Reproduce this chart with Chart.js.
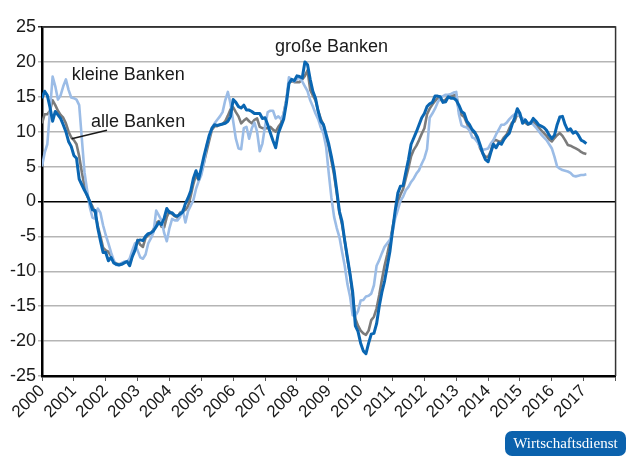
<!DOCTYPE html>
<html>
<head>
<meta charset="utf-8">
<script src="https://cdn.jsdelivr.net/npm/chart.js@4.4.0/dist/chart.umd.min.js"></script>
<style>
  html, body { margin: 0; padding: 0; background: #fff; }
  #wrap { width: 630px; height: 459px; }
</style>
</head>
<body>
<div id="wrap"><canvas id="myChart" width="630" height="459"></canvas></div>
<script>
// monthly values, Jan 2000 .. Feb 2017
const startYear = 2000;
const years = [2000, 2001, 2002, 2003, 2004, 2005, 2006, 2007, 2008,
  2009, 2010, 2011, 2012, 2013, 2014, 2015, 2016, 2017];

const grosseBanken = [
  14.8, 15.8, 15.2, 13.5, 11.5, 12.9, 12.4, 11.9, 11.0, 10.0, 8.6, 7.9,
  6.6, 6.2, 3.2, 2.4, 1.6, 0.9, 0.0, -1.2, -1.3, -3.8, -5.6, -7.3,
  -7.3, -8.5, -8.0, -8.8, -9.0, -9.1, -9.0, -8.8, -8.6, -9.2, -7.9, -7.0,
  -5.6, -5.5, -5.6, -5.0, -4.6, -4.5, -4.2, -3.6, -3.0, -3.3, -2.4, -1.0,
  -1.6, -1.6, -2.0, -2.1, -1.8, -1.5, -0.3, 0.5, 1.5, 3.3, 4.4, 3.2,
  4.8, 6.5, 8.0, 9.5, 10.5, 11.0, 10.9, 11.0, 11.1, 11.2, 11.5, 12.2,
  14.6, 14.2, 13.6, 13.4, 13.8, 13.1, 13.1, 12.9, 12.6, 12.6, 12.6, 11.9,
  12.0, 11.0, 9.8, 8.7, 7.7, 9.8, 10.8, 11.8, 14.0, 16.9, 17.5, 17.3,
  18.0, 17.9, 17.7, 20.0, 19.6, 17.5, 15.8, 14.8, 12.9, 11.5, 11.0, 9.6,
  8.2, 6.4, 4.4, 1.6, -1.4, -2.9, -5.6, -8.0, -10.4, -13.0, -17.8, -18.6,
  -20.3, -21.4, -21.8, -20.3, -19.0, -18.9, -17.5, -15.0, -13.0, -11.4, -9.3, -7.2,
  -4.2, -1.3, 1.2, 2.2, 2.3, 4.2, 6.0, 8.2, 9.1, 10.0, 11.0, 12.0,
  12.6, 13.6, 14.0, 14.2, 15.1, 15.1, 15.0, 14.2, 14.3, 15.0, 14.8, 14.8,
  14.5, 13.8, 12.9, 12.6, 11.5, 11.0, 10.3, 9.9, 9.2, 8.1, 6.9, 6.0,
  5.7, 7.0, 8.2, 7.7, 8.4, 8.2, 8.9, 9.4, 9.8, 11.0, 12.0, 13.3,
  12.6, 11.2, 11.7, 11.1, 11.2, 11.9, 11.5, 11.0, 10.8, 10.6, 10.2, 9.5,
  9.0, 9.5, 11.0, 12.1, 12.2, 11.0, 10.2, 10.4, 9.8, 10.0, 9.5, 8.8,
  8.6, 8.3
];

const alleBanken = [
  11.2, 12.5, 12.5, 13.0, 14.5, 13.8, 13.0, 12.4, 12.0, 11.2, 10.0, 9.2,
  8.8, 8.2, 6.5, 4.2, 2.2, 0.8, 0.0, -0.7, -1.6, -3.5, -5.0, -6.6,
  -7.0, -7.2, -7.8, -8.6, -8.9, -9.0, -8.9, -8.7, -8.6, -8.8, -7.8, -6.8,
  -5.5, -6.2, -6.5, -5.2, -4.8, -4.6, -4.0, -3.1, -2.8, -3.6, -3.7, -2.2,
  -1.4, -1.8, -2.1, -2.3, -1.6, -1.4, -1.2, -0.7, 0.8, 2.5, 3.8, 3.0,
  4.2, 5.6, 7.2, 8.8, 10.3, 10.8, 10.8, 11.0, 11.1, 11.5, 12.3, 13.2,
  13.5, 12.8, 12.2, 11.2, 11.6, 11.9, 11.5, 11.2, 11.7, 11.9, 10.7, 10.5,
  10.5, 10.5, 10.7, 10.3, 10.0, 10.7, 11.2, 12.6, 14.5, 17.0, 17.3, 17.1,
  17.1, 17.1, 17.5, 18.0, 18.8, 16.0, 15.2, 14.5, 13.0, 11.8, 11.0, 9.3,
  7.8, 5.8, 3.8, 1.2, -1.6, -3.3, -5.6, -8.2, -10.5, -13.5, -16.8, -17.8,
  -18.5, -18.9, -19.1, -18.5, -17.0, -16.5, -15.3, -13.4, -11.2, -9.2, -7.6, -5.8,
  -3.8, -1.8, 0.0, 1.0, 1.8, 3.3, 4.8, 6.5, 7.4, 8.0, 8.8, 9.7,
  10.5, 12.5, 13.3, 13.9, 14.4, 14.8, 14.6, 14.4, 14.6, 15.0, 15.1, 15.2,
  15.3, 13.0, 12.4, 12.1, 11.2, 10.3, 10.0, 9.8, 8.9, 7.6, 6.9, 6.4,
  6.4, 7.2, 8.7, 8.8, 8.6, 8.6, 9.2, 9.6, 10.5, 11.3, 11.5, 12.6,
  12.2, 11.7, 11.3, 11.0, 11.2, 11.4, 11.1, 10.6, 10.2, 9.8, 9.4, 8.9,
  8.6, 9.1, 9.5, 9.8, 9.4, 8.8, 8.1, 8.0, 7.8, 7.6, 7.4, 7.1,
  6.9, 6.8
];

const kleineBanken = [
  5.0, 7.0, 8.2, 13.0, 17.9, 16.5, 14.6, 15.2, 16.5, 17.5, 16.0, 14.9,
  14.8, 14.6, 13.8, 9.0, 4.2, 1.6, -0.8, -2.3, -2.5, -1.0, -1.6, -3.4,
  -4.8, -6.0, -7.3, -8.4, -9.1, -9.1, -8.8, -8.6, -8.6, -8.2, -7.0, -6.0,
  -7.0, -8.0, -8.2, -7.6, -6.0, -5.3, -4.4, -1.3, -2.0, -2.7, -4.5, -5.7,
  -3.8, -2.5, -2.7, -2.7, -2.2, -1.2, -3.0, -1.4, -0.6, 0.2, 1.8, 2.9,
  3.8, 5.5, 8.0, 9.3, 10.5, 11.2, 11.7, 12.2, 12.8, 14.5, 15.7, 14.0,
  11.5, 9.0, 7.6, 7.5, 10.5, 10.7, 9.0, 10.5, 11.3, 10.0, 7.2, 8.3,
  10.8, 12.8, 13.0, 13.0, 11.9, 12.2, 11.8, 12.5, 14.5, 17.8, 17.4, 17.2,
  17.5, 17.8, 17.2, 16.5, 15.8, 14.5, 13.6, 12.6, 11.8, 10.6, 9.7, 7.8,
  4.0, 0.5, -2.2, -3.8, -5.1, -7.2, -9.2, -11.8, -13.6, -16.3, -16.4, -15.7,
  -14.2, -14.1, -13.6, -13.5, -13.2, -12.0, -9.2, -8.4, -7.4, -6.5, -6.0, -5.5,
  -4.4, -2.4, -1.2, 0.1, 0.7, 1.6, 2.1, 2.8, 3.3, 4.0, 4.5, 5.4,
  6.2, 7.5, 12.0, 12.6, 13.3, 14.2, 14.8, 15.1, 15.3, 15.3, 15.4, 15.6,
  15.7, 12.5, 10.9, 10.7, 10.6, 10.2, 9.2, 9.0, 8.5, 7.8, 7.4, 7.5,
  7.6, 8.3, 8.8, 9.6, 10.3, 11.0, 11.0, 11.3, 11.8, 12.2, 12.5, 12.5,
  12.2, 11.9, 11.7, 11.2, 11.4, 11.0, 10.6, 10.1, 9.6, 9.2, 8.8, 8.2,
  7.6, 6.4, 5.0, 4.7, 4.5, 4.4, 4.3, 4.1, 3.7, 3.6, 3.7, 3.8,
  3.8, 3.9
];

const toPoints = (values) => values.map((v, i) => ({ x: startYear + i / 12, y: v }));

const labelFont = '18px "Liberation Sans", Arial, Helvetica, sans-serif';

// text labels placed in data coordinates
const notes = [
  { text: "kleine Banken", x: 2000.93, y: 18.1 },
  { text: "alle Banken", x: 2001.54, y: 11.4 },
  { text: "große Banken", x: 2007.31, y: 22.1 }
];
const leader = [{ x: 2002.04, y: 10.2 }, { x: 2000.93, y: 9.0 }];

const decorations = {
  id: "decorations",
  beforeDraw(chart) {
    const ctx = chart.ctx;
    ctx.save();
    ctx.fillStyle = "#fff";
    ctx.fillRect(0, 0, chart.width, chart.height);
    ctx.restore();
  },
  afterDraw(chart) {
    const { ctx, chartArea: a, scales } = chart;
    const sx = scales.x, sy = scales.y;
    ctx.save();
    // top and right frame
    ctx.strokeStyle = "#333";
    ctx.lineWidth = 1.5;
    ctx.beginPath();
    ctx.moveTo(a.left, a.top);
    ctx.lineTo(a.right, a.top);
    ctx.lineTo(a.right, a.bottom);
    ctx.stroke();

    // annotations
    ctx.font = labelFont;
    ctx.fillStyle = "#1a1a1a";
    ctx.textBaseline = "middle";
    ctx.textAlign = "left";
    notes.forEach(n => ctx.fillText(n.text, sx.getPixelForValue(n.x), sy.getPixelForValue(n.y)));
    ctx.strokeStyle = "#1a1a1a";
    ctx.lineWidth = 1.5;
    ctx.beginPath();
    ctx.moveTo(sx.getPixelForValue(leader[0].x), sy.getPixelForValue(leader[0].y));
    ctx.lineTo(sx.getPixelForValue(leader[1].x), sy.getPixelForValue(leader[1].y));
    ctx.stroke();

    // logo
    ctx.fillStyle = "#0b62ad";
    ctx.beginPath();
    ctx.roundRect(505, 431, 121, 25, 7);
    ctx.fill();
    ctx.fillStyle = "#fff";
    ctx.font = '15px "Liberation Serif", "DejaVu Serif", serif';
    ctx.textAlign = "center";
    ctx.fillText("Wirtschaftsdienst", 565.5, 444);
    ctx.restore();
  }
};

const ctx = document.getElementById("myChart");

const myChart = new Chart(ctx, {
  type: "line",
  data: {
    datasets: [
      {
        label: "große Banken",
        data: toPoints(grosseBanken),
        borderColor: "#0a66b2",
        borderWidth: 3,
        order: 1
      },
      {
        label: "kleine Banken",
        data: toPoints(kleineBanken),
        borderColor: "#9bbce6",
        borderWidth: 2.6,
        order: 2
      },
      {
        label: "alle Banken",
        data: toPoints(alleBanken),
        borderColor: "#7b7b7b",
        borderWidth: 2.6,
        order: 3
      }
    ]
  },
  options: {
    responsive: false,
    animation: false,
    devicePixelRatio: 1,
    elements: {
      point: { radius: 0 },
      line: { tension: 0, borderJoinStyle: "round" }
    },
    layout: {
      padding: { left: 0, right: 5, top: 27, bottom: 0 }
    },
    plugins: {
      legend: { display: false },
      tooltip: { enabled: false }
    },
    scales: {
      x: {
        type: "linear",
        min: 2000,
        max: 2018,
        border: { color: "#000", width: 2.5 },
        grid: {
          drawOnChartArea: false,
          drawTicks: true,
          tickLength: 5,
          color: "#555",
          lineWidth: 1
        },
        ticks: {
          stepSize: 1,
          autoSkip: false,
          minRotation: 45,
          maxRotation: 45,
          padding: 0,
          color: "#1a1a1a",
          font: { family: '"Liberation Sans", Arial, sans-serif', size: 17 },
          callback: (v) => years.includes(v) ? String(v) : ""
        },
        afterFit: (scale) => { scale.height = 83; }
      },
      y: {
        min: -25,
        max: 25,
        border: { color: "#000", width: 2.5 },
        grid: {
          drawTicks: true,
          tickLength: 4,
          lineWidth: 1.5,
          color: (c) => {
            const v = c.tick ? c.tick.value : null;
            if (v === 0) return "#000";
            if (v === 25) return "#333";
            return "#b5b5b5";
          }
        },
        ticks: {
          stepSize: 5,
          padding: 2,
          color: "#1a1a1a",
          font: { family: '"Liberation Sans", Arial, sans-serif', size: 18 }
        },
        afterFit: (scale) => { scale.width = 42; }
      }
    }
  },
  plugins: [decorations]
});
</script>
</body>
</html>
